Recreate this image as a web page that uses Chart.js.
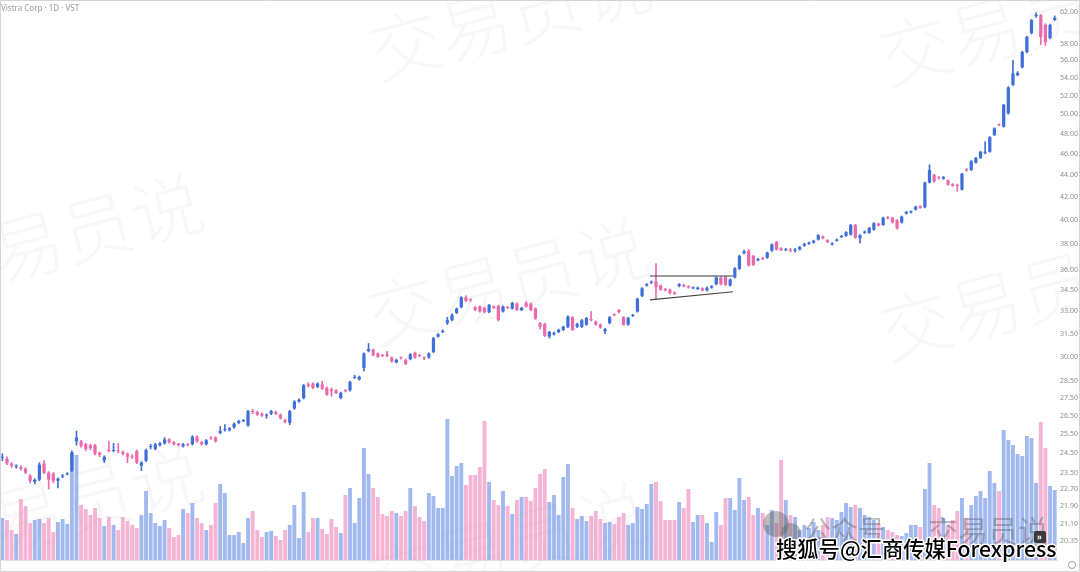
<!DOCTYPE html>
<html lang="zh">
<head>
<meta charset="UTF-8">
<title>Vistra Corp · 1D · VST</title>
<script src="https://cdn.jsdelivr.net/npm/chart.js"></script>
<style>
  body { margin: 0; background: #fff; }
  #chart { display: block; }
</style>
</head>
<body>
<canvas id="chart" width="1080" height="572"></canvas>
<script>
// daily candles, Apr 18 2023 -> Mar 13 2024
const opens = [
  24.25,24.2,23.95,23.8,23.78,23.7,23.35,23.05,23.15,23.95,
  23.5,23.45,23.1,23.3,23.42,23.6,25.1,25.1,24.95,24.9,
  24.9,24.5,24.1,24.65,24.6,24.62,24.55,24.45,24.35,24.6,
  23.85,24.1,24.8,24.7,24.9,25.0,25.2,25.05,24.98,24.85,
  24.95,24.95,25.35,25.05,24.95,25.3,25.3,25.55,25.7,25.7,
  25.85,26.1,26.2,25.95,26.75,26.7,26.6,26.5,26.6,26.7,
  26.55,26.25,26.1,26.9,27.3,27.5,28.3,28.35,28.15,28.3,
  28.1,28.0,27.95,27.5,27.95,27.95,28.7,28.6,29.3,30.35,
  30.45,30.2,30.1,30.15,29.95,29.65,29.95,29.8,29.85,30.25,
  30.1,29.95,29.95,30.3,31.3,31.6,32.2,32.4,32.9,33.3,
  34.0,33.85,33.3,33.35,33.25,32.95,33.35,33.4,33.0,33.3,
  33.2,33.55,33.1,33.6,33.55,33.2,32.2,32.15,31.3,31.45,
  31.6,31.75,31.95,32.6,31.95,31.95,32.1,32.45,32.3,32.1,
  31.65,32.2,32.8,33.1,32.6,32.1,32.7,33.0,34.1,34.85,
  35.05,35.15,34.85,34.6,34.55,34.35,34.8,34.9,34.8,34.65,
  34.6,34.65,34.5,34.7,34.95,35.45,35.5,34.85,35.45,36.1,
  37.3,37.5,37.1,36.75,36.9,36.95,37.5,38.2,37.7,37.55,
  37.55,37.5,37.6,37.9,38.05,38.15,38.4,38.65,38.35,38.0,
  38.3,38.6,38.7,38.8,39.6,38.5,38.95,38.95,39.2,39.7,
  39.6,40.25,40.2,40.0,39.8,40.55,40.65,40.9,41.2,41.1,
  43.3,44.0,43.75,43.65,43.5,43.15,43.1,42.65,44.5,44.45,
  45.15,45.6,46.1,46.2,47.85,48.9,48.7,50.1,53.2,54.3,
  55.2,57.0,59.3,61.5,61.6,60.35,58.7,61.0
];
const highs = [
  24.45,24.3,24.0,23.9,23.85,23.75,23.4,23.2,24.0,24.1,
  23.55,23.5,23.25,23.42,23.5,24.6,25.65,25.15,25.0,24.95,
  24.95,24.55,24.35,25.1,25.0,25.0,24.6,24.5,24.4,24.65,
  24.05,24.7,24.95,25.0,25.05,25.3,25.25,25.1,25.0,25.0,
  25.0,25.4,25.4,25.1,25.2,25.35,25.35,25.9,26.0,25.85,
  26.1,26.25,26.28,26.8,26.85,26.75,26.65,26.6,26.8,26.75,
  26.6,26.3,26.8,27.35,27.45,28.3,28.4,28.4,28.4,28.5,
  28.15,28.1,28.0,27.85,28.0,28.5,28.85,28.8,30.25,30.85,
  30.5,30.25,30.15,30.35,30.0,29.85,30.0,29.85,30.2,30.3,
  30.15,30.0,30.25,31.25,31.5,31.75,32.6,32.85,33.25,34.05,
  34.1,33.9,33.35,33.4,33.3,33.5,33.4,33.45,33.4,33.35,
  33.65,33.6,33.3,33.7,33.6,33.25,32.25,32.2,31.65,31.6,
  31.8,32.0,32.7,32.65,32.2,32.45,32.6,33.0,32.35,32.15,
  31.85,32.65,32.85,33.15,32.65,32.6,32.8,33.95,34.7,35.0,
  35.2,36.5,34.9,34.65,34.6,34.4,35.0,34.95,34.85,34.75,
  34.75,34.7,34.75,34.85,35.5,35.5,35.55,35.35,36.2,37.15,
  37.55,37.6,37.15,36.9,37.0,37.4,38.05,38.25,37.75,37.7,
  37.7,37.7,37.85,38.1,38.2,38.35,38.8,38.7,38.4,38.15,
  38.45,38.75,39.05,39.65,39.65,38.8,39.1,39.4,39.8,39.75,
  40.25,40.3,40.25,40.05,40.35,40.75,40.8,41.2,41.25,43.35,
  44.95,44.05,43.85,43.85,43.55,43.2,43.15,44.15,44.6,45.35,
  45.65,46.25,47.2,47.7,48.6,49.0,51.05,53.0,56.0,54.7,
  57.1,58.95,61.05,61.9,61.7,60.5,60.45,61.5
];
const lows = [
  24.1,23.9,23.75,23.72,23.62,23.45,23.0,22.95,23.1,23.45,
  22.7,23.0,22.75,23.25,23.38,23.55,24.9,24.8,24.6,24.65,
  24.4,24.3,24.0,24.55,24.55,24.5,24.4,24.0,24.2,23.95,
  23.6,24.05,24.7,24.65,24.85,24.95,25.0,24.9,24.85,24.8,
  24.85,24.9,25.05,24.9,24.9,25.2,25.05,25.5,25.65,25.65,
  25.8,26.05,26.15,25.9,26.6,26.5,26.45,26.35,26.55,26.55,
  26.3,26.1,26.0,26.85,27.25,27.45,28.15,28.05,28.1,28.0,
  27.65,27.6,27.75,27.45,27.85,27.9,28.65,28.55,29.1,30.3,
  30.05,29.95,30.0,30.0,29.65,29.6,29.85,29.5,29.8,29.9,
  30.0,29.8,29.9,30.25,31.25,31.55,32.1,32.35,32.85,33.25,
  33.7,33.7,33.05,32.95,32.9,32.9,33.2,32.35,32.95,33.2,
  33.15,33.05,33.05,33.3,33.05,32.45,31.8,31.3,31.2,31.4,
  31.55,31.7,31.9,31.7,31.9,31.9,32.05,32.35,32.05,31.85,
  31.5,32.15,32.7,32.9,32.05,32.05,32.65,32.95,34.05,34.8,
  35.0,33.85,34.5,34.45,34.25,34.2,34.75,34.75,34.65,34.6,
  34.55,34.45,34.45,34.65,34.9,34.9,34.85,34.8,35.4,36.05,
  37.25,36.3,36.35,36.7,36.8,36.9,37.45,37.55,37.5,37.5,
  37.4,37.4,37.55,37.85,38.0,38.1,38.35,38.45,38.15,37.95,
  38.25,38.55,38.65,38.75,38.5,38.1,38.9,38.9,39.15,39.5,
  39.55,40.1,39.75,39.25,39.75,40.5,40.6,40.85,41.0,41.05,
  43.25,43.3,43.6,43.6,43.05,42.95,42.5,42.6,44.35,44.4,
  45.1,45.55,46.0,46.15,47.8,48.8,48.65,50.0,53.1,54.2,
  55.1,56.9,59.2,61.3,57.9,57.8,58.6,60.9
];
const closes = [
  24.3,23.95,23.85,23.82,23.7,23.5,23.1,23.15,23.9,23.5,
  23.15,23.1,23.2,23.35,23.45,24.5,25.3,24.85,24.7,24.75,
  24.45,24.4,24.3,24.6,24.62,24.58,24.45,24.3,24.3,24.0,
  24.0,24.65,24.85,24.95,25.0,25.2,25.05,24.95,24.9,24.95,
  24.9,25.35,25.1,24.95,25.15,25.25,25.1,25.65,25.75,25.8,
  26.05,26.2,26.22,26.75,26.7,26.55,26.5,26.55,26.75,26.6,
  26.35,26.15,26.75,27.3,27.4,28.25,28.2,28.1,28.35,28.05,
  27.7,27.9,27.8,27.8,27.9,28.45,28.75,28.75,30.2,30.5,
  30.1,30.0,30.05,30.05,29.7,29.8,29.9,29.55,30.15,29.95,
  30.05,29.9,30.2,31.2,31.45,31.65,32.4,32.75,33.2,34.0,
  33.75,33.8,33.1,33.0,32.95,33.45,33.25,32.4,33.35,33.25,
  33.6,33.1,33.25,33.35,33.1,32.5,31.95,31.35,31.6,31.55,
  31.75,31.95,32.65,31.75,32.15,32.4,32.55,32.4,32.1,31.9,
  31.8,32.6,32.75,32.95,32.1,32.55,32.75,33.9,34.65,34.95,
  35.1,34.75,34.55,34.5,34.3,34.25,34.95,34.8,34.7,34.7,
  34.7,34.5,34.7,34.8,35.45,34.95,34.9,35.3,36.15,37.1,
  37.45,36.35,36.4,36.85,36.85,37.35,38.0,37.6,37.55,37.6,
  37.5,37.55,37.8,38.05,38.15,38.3,38.75,38.5,38.2,38.1,
  38.4,38.7,39.0,39.6,38.55,38.75,39.05,39.35,39.75,39.55,
  40.2,40.15,39.8,39.3,40.3,40.7,40.75,41.15,41.05,43.3,
  44.45,43.4,43.7,43.8,43.1,43.0,43.0,44.1,44.4,45.3,
  45.6,46.2,46.2,47.65,48.55,48.85,51.0,52.9,54.5,54.55,
  57.0,58.85,60.95,61.65,58.85,58.2,60.35,61.25
];
// volume, millions of shares
const volumes = [
  4.2,4.0,3.0,2.6,6.1,5.4,3.7,4.0,4.1,3.7,
  4.2,2.8,3.8,4.1,3.6,10.8,10.5,5.5,5.1,4.5,
  5.2,4.2,3.4,4.3,3.5,3.0,4.3,3.9,3.5,3.2,
  4.5,6.9,4.7,3.7,3.4,4.0,3.2,2.3,2.5,5.1,
  4.7,5.7,4.2,3.7,3.0,3.5,5.7,7.6,6.7,2.5,
  2.5,2.8,1.7,4.2,4.9,3.0,2.3,2.8,2.9,2.4,
  2.0,3.0,3.5,5.5,2.2,6.8,2.8,4.2,4.2,3.1,
  2.6,4.1,3.3,2.7,6.5,7.2,3.7,6.2,11.2,8.6,
  7.2,6.3,4.6,4.4,4.9,4.7,4.4,4.9,7.2,5.4,
  4.3,3.9,6.7,6.4,5.2,5.2,14.1,8.4,9.4,9.7,
  7.5,8.5,8.5,9.3,13.9,7.8,6.0,5.5,6.9,5.4,
  4.6,6.0,6.3,6.3,5.9,7.2,8.6,9.1,5.8,6.5,
  4.5,8.3,9.6,5.2,4.1,4.4,3.9,4.4,4.9,4.1,
  3.7,3.8,3.6,4.3,4.7,3.5,3.7,5.3,5.1,5.6,
  7.6,7.8,5.9,4.0,4.0,4.0,5.8,5.2,7.1,3.8,
  4.5,4.5,3.7,1.8,4.8,3.5,6.2,6.2,5.0,8.2,
  6.0,6.3,4.5,5.2,4.7,3.5,5.0,3.7,10.0,6.0,
  4.5,4.3,3.0,3.5,3.2,3.8,3.0,3.5,4.3,4.2,
  4.0,4.8,5.7,5.3,5.5,5.2,4.5,4.3,4.0,3.7,
  3.3,3.0,2.8,2.5,2.4,2.7,3.5,3.5,3.3,7.1,
  9.7,5.5,5.2,4.2,3.5,4.0,4.9,6.2,4.2,5.5,
  6.4,6.9,6.2,8.9,7.7,6.9,13.0,12.0,11.5,10.6,
  10.4,12.4,12.2,7.7,13.8,11.2,7.4,7.0
];

const priceTicks = [20.35, 21.10, 21.90, 22.70, 23.50, 24.50, 25.50, 26.50, 27.50, 28.50,
  30.00, 31.50, 33.00, 34.50, 36.00, 38.00, 40.00, 42.00, 44.00, 46.00,
  48.00, 50.00, 52.00, 54.00, 56.00, 58.00, 62.00];
const tickDates = ['2023-05-01','2023-05-15','2023-06-01','2023-06-15','2023-07-03','2023-07-18',
  '2023-08-01','2023-08-15','2023-09-01','2023-09-18','2023-10-02','2023-10-16','2023-11-01',
  '2023-11-15','2023-12-01','2023-12-15','2024-01-02','2024-01-17','2024-02-01','2024-02-15','2024-03-01'];
const tickLabels = ['May','15','Jun','15','Jul','18','Aug','15','Sep','18','Oct','16','Nov',
  '15','Dec','15','2024','17','Feb','15','Mar'];
const holidays = ['2023-05-29','2023-06-19','2023-07-04','2023-09-04','2023-11-23',
  '2023-12-25','2024-01-01','2024-01-15','2024-02-19'];

// triangle drawn on the chart: [bar index, price]
const triangleTop = [[139.7, 35.56], [157.6, 35.56]];
const triangleBottom = [[139.7, 33.81], [157.6, 34.4]];

function buildTradingDays(start, count) {
  const out = [];
  const d = new Date(start + 'T00:00:00Z');
  while (out.length < count) {
    const wd = d.getUTCDay();
    const s = d.toISOString().slice(0, 10);
    if (wd !== 0 && wd !== 6 && !holidays.includes(s)) out.push(s);
    d.setUTCDate(d.getUTCDate() + 1);
  }
  return out;
}
const days = buildTradingDays('2023-04-18', closes.length);

const UP = '#3f6fd9', DOWN = '#ea6aac';
const VOL_UP = 'rgba(75,120,225,0.52)', VOL_DOWN = 'rgba(238,105,170,0.5)';
const isUp = closes.map((c, i) => c >= opens[i]);
const candleColors = isUp.map(u => u ? UP : DOWN);
const volColors = isUp.map(u => u ? VOL_UP : VOL_DOWN);

const decor = {
  id: 'decor',
  beforeDatasetsDraw(chart) {
    const ctx = chart.ctx;
    ctx.save();
    ctx.fillStyle = 'rgba(0,0,0,0.032)';
    ctx.font = '300 72px "Noto Sans CJK SC"';
    const spots = [[-70, 300], [-70, 570], [378, 80], [375, 345], [375, 610], [888, 85], [888, 360]];
    spots.forEach(([x, y]) => {
      ctx.save();
      ctx.translate(x, y);
      ctx.rotate(-0.26);
      ctx.fillText('交易员说', 0, 0);
      ctx.restore();
    });
    ctx.restore();
  },
  afterDraw(chart) {
    const ctx = chart.ctx;
    ctx.save();
    // title
    ctx.fillStyle = '#9a9a9a';
    ctx.font = '8px "Noto Sans"';
    ctx.textBaseline = 'alphabetic';
    ctx.fillText('Vistra Corp · 1D · VST', 1, 11);

    // wechat mark
    ctx.fillStyle = 'rgba(95,95,95,0.42)';
    ctx.beginPath(); ctx.arc(776, 524, 13, 0, Math.PI * 2); ctx.fill();
    ctx.beginPath(); ctx.arc(791, 533, 10, 0, Math.PI * 2); ctx.fill();
    ctx.font = '27px "Noto Sans CJK SC"';
    ctx.fillText('公众号', 804, 540);
    ctx.font = '30px "Noto Sans CJK SC"';
    ctx.fillText('交易员说', 928, 542);

    // scroll button
    ctx.fillStyle = '#3a3a3a';
    ctx.beginPath();
    ctx.roundRect(1034, 531, 12, 12, 2);
    ctx.fill();
    ctx.fillStyle = '#fff';
    ctx.font = 'bold 8px "Noto Sans"';
    ctx.fillText('»', 1037, 540);

    // source caption
    const txt = '搜狐号@汇商传媒Forexpress';
    ctx.font = '500 22px "Noto Sans CJK SC"';
    const w = ctx.measureText(txt).width;
    const size = 22 * 281 / w;
    ctx.font = '500 ' + size.toFixed(1) + 'px "Noto Sans CJK SC"';
    ctx.lineJoin = 'round';
    ctx.lineWidth = 3;
    ctx.strokeStyle = '#fff';
    ctx.strokeText(txt, 776, 557);
    ctx.fillStyle = '#000';
    ctx.fillText(txt, 776, 557);

    // settings icon
    ctx.strokeStyle = '#999';
    ctx.lineWidth = 1;
    ctx.beginPath(); ctx.arc(1072, 565, 3.5, 0, Math.PI * 2); ctx.stroke();

    // frame
    ctx.strokeStyle = '#d4d4d4';
    ctx.strokeRect(0.5, 0.5, 1079, 571);
    ctx.restore();
  }
};

Chart.defaults.font.family = '"Noto Sans", sans-serif';

new Chart(document.getElementById('chart'), {
  data: {
    labels: days,
    datasets: [
      {
        type: 'line',
        data: triangleTop.map(p => ({x: p[0], y: p[1]})),
        xAxisID: 'xl', yAxisID: 'y',
        borderColor: '#3a3a3a', borderWidth: 1.2, pointRadius: 0, order: 0
      },
      {
        type: 'line',
        data: triangleBottom.map(p => ({x: p[0], y: p[1]})),
        xAxisID: 'xl', yAxisID: 'y',
        borderColor: '#4a4242', borderWidth: 1.2, pointRadius: 0, order: 0
      },
      {
        type: 'bar',
        data: opens.map((o, i) => [o, closes[i]]),
        xAxisID: 'x', yAxisID: 'y',
        backgroundColor: candleColors,
        grouped: false, categoryPercentage: 1, barPercentage: 0.7,
        minBarLength: 1, order: 1
      },
      {
        type: 'bar',
        data: lows.map((l, i) => [l, highs[i]]),
        xAxisID: 'x', yAxisID: 'y',
        backgroundColor: candleColors,
        grouped: false, barThickness: 1, order: 2
      },
      {
        type: 'bar',
        data: volumes,
        xAxisID: 'x', yAxisID: 'yv',
        backgroundColor: volColors,
        grouped: false, categoryPercentage: 1, barPercentage: 0.84, order: 3
      }
    ]
  },
  options: {
    responsive: false,
    animation: false,
    devicePixelRatio: 1,
    layout: { padding: 0 },
    plugins: { legend: { display: false }, tooltip: { enabled: false } },
    scales: {
      x: {
        type: 'category',
        offset: true,
        grid: { display: false },
        border: { display: true, color: '#e3e3e3' },
        ticks: {
          autoSkip: false, maxRotation: 0, minRotation: 0, padding: 1,
          font: ctx => ({ size: 7.5, weight: ctx.tick && ctx.tick.label === '2024' ? 'bold' : 'normal' }),
          color: ctx => ctx.tick && ctx.tick.label === '2024' ? '#444' : '#8c8c8c',
          callback(v) {
            const k = tickDates.indexOf(this.getLabelForValue(v));
            return k < 0 ? '' : tickLabels[k];
          }
        },
        afterFit(s) { s.height = 12; s.paddingLeft = 0; s.paddingRight = 0; }
      },
      xl: { type: 'linear', display: false, min: -0.5, max: closes.length - 0.5 },
      y: {
        type: 'logarithmic',
        position: 'right',
        min: 19.55, max: 63.6,
        grid: { display: false, drawTicks: false },
        border: { display: false },
        ticks: {
          autoSkip: false, padding: 3, color: '#8c8c8c',
          font: { size: 7 },
          callback: v => Number(v).toFixed(2)
        },
        afterBuildTicks(s) { s.ticks = priceTicks.map(v => ({ value: v })); },
        afterFit(s) { s.width = 23; s.paddingTop = 0; s.paddingBottom = 0; }
      },
      yv: { type: 'linear', display: false, min: 0, max: 56 }
    }
  },
  plugins: [decor]
});
</script>
</body>
</html>
